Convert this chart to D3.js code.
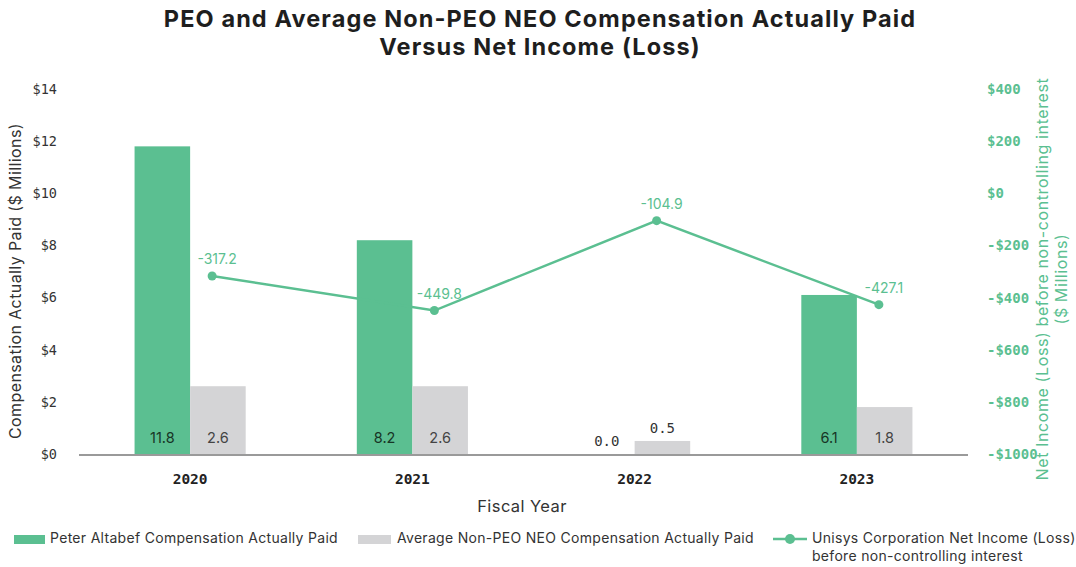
<!DOCTYPE html>
<html>
<head>
<meta charset="utf-8">
<script src="https://cdn.jsdelivr.net/npm/d3@7"></script>
<style>
  html, body { margin: 0; padding: 0; background: #fff; }
  svg { display: block; }
</style>
</head>
<body>
<svg id="chart" width="1076" height="567"></svg>
<script>
// Fiscal years and series
const years = ["2020", "2021", "2022", "2023"];
const peoPaid = [11.8, 8.2, 0.0, 6.1];          // $M
const nonPeoPaid = [2.6, 2.6, 0.5, 1.8];        // $M
const netIncome = [-317.2, -449.8, -104.9, -427.1]; // $M
const leftTicks = [0, 2, 4, 6, 8, 10, 12, 14];
const rightTicks = [-1000, -800, -600, -400, -200, 0, 200, 400];

const GREEN = "#5bbf91";
const GRAY = "#d4d4d6";
const MONO = "'DejaVu Sans Mono', monospace";
const SANS = "Inter, 'Noto Sans', sans-serif";

const svg = d3.select("#chart");

const plot = { left: 79, right: 968, top: 89, bottom: 454 };

const x = d3.scaleBand().domain(years).range([plot.left, plot.right])
  .paddingInner(0.5).paddingOuter(0.25);
const sub = d3.scaleBand().domain(["peo", "non"]).range([0, x.bandwidth()]);
const yL = d3.scaleLinear().domain([0, 14]).range([plot.bottom, plot.top]);
const yR = d3.scaleLinear().domain([-1000, 400]).range([plot.bottom, plot.top]);

// Title
svg.append("text")
  .attr("x", 540).attr("y", 0)
  .attr("text-anchor", "middle")
  .attr("font-family", SANS).attr("font-weight", 700)
  .attr("font-size", 23.5).attr("letter-spacing", 1.1).attr("fill", "#1e1e1e")
  .selectAll("tspan")
  .data(["PEO and Average Non-PEO NEO Compensation Actually Paid", "Versus Net Income (Loss)"])
  .join("tspan")
  .attr("x", 540).attr("y", (d, i) => 27 + i * 28)
  .text(d => d);

// Left axis
const axL = svg.append("g").attr("transform", `translate(57,0)`)
  .call(d3.axisLeft(yL).tickValues(leftTicks).tickSize(0).tickPadding(0)
    .tickFormat(d => "$" + d));
axL.select(".domain").remove();
axL.selectAll("text").attr("font-family", MONO).attr("font-size", 13.5)
  .attr("fill", "#333");

// Right axis
const axR = svg.append("g").attr("transform", `translate(987,0)`)
  .call(d3.axisRight(yR).tickValues(rightTicks).tickSize(0).tickPadding(0)
    .tickFormat(d => (d < 0 ? "-$" + Math.abs(d) : "$" + d)));
axR.select(".domain").remove();
axR.selectAll("text").attr("font-family", MONO).attr("font-size", 14)
  .attr("fill", GREEN).attr("font-weight", 700);

// Axis titles
svg.append("text")
  .attr("transform", `translate(21,${281}) rotate(-90)`)
  .attr("text-anchor", "middle")
  .attr("font-family", SANS).attr("font-size", 16).attr("letter-spacing", 0.4).attr("fill", "#333")
  .text("Compensation Actually Paid ($ Millions)");

const rt = svg.append("text")
  .attr("transform", `translate(1048,${279}) rotate(-90)`)
  .attr("text-anchor", "middle")
  .attr("font-family", SANS).attr("font-size", 16).attr("letter-spacing", 0.6).attr("fill", GREEN);
rt.append("tspan").attr("x", 0).attr("y", 0).text("Net Income (Loss) before non-controlling interest");
rt.append("tspan").attr("x", 0).attr("y", 19).text("($ Millions)");

// Bars
const groups = svg.append("g").selectAll("g")
  .data(years.map((yr, i) => ({ yr, vals: [
    { key: "peo", v: peoPaid[i] }, { key: "non", v: nonPeoPaid[i] }] })))
  .join("g")
  .attr("transform", d => `translate(${x(d.yr)},0)`);

groups.selectAll("rect")
  .data(d => d.vals)
  .join("rect")
  .attr("x", d => sub(d.key))
  .attr("width", sub.bandwidth())
  .attr("y", d => yL(d.v))
  .attr("height", d => yL(0) - yL(d.v))
  .attr("fill", d => d.key === "peo" ? GREEN : GRAY);

// Bar value labels: inside the bar when tall enough, otherwise just above it
groups.selectAll("text.val")
  .data(d => d.vals)
  .join("text")
  .attr("class", "val")
  .attr("x", d => sub(d.key) + sub.bandwidth() / 2)
  .attr("text-anchor", "middle")
  .each(function (d) {
    const h = yL(0) - yL(d.v);
    const t = d3.select(this);
    if (h > 24) {
      t.attr("y", 443).attr("font-family", SANS).attr("font-size", 14.5)
        .attr("fill", d.key === "peo" ? "#173526" : "#444");
    } else {
      t.attr("y", yL(d.v) - 8).attr("font-family", MONO).attr("font-size", 14)
        .attr("fill", "#333");
    }
  })
  .text(d => d.v.toFixed(1));

// Baseline
svg.append("line")
  .attr("x1", plot.left).attr("x2", plot.right)
  .attr("y1", yL(0) + 1).attr("y2", yL(0) + 1)
  .attr("stroke", "#9a9a9a").attr("stroke-width", 2);

// Year labels
svg.append("g").selectAll("text")
  .data(years)
  .join("text")
  .attr("x", d => x(d) + x.bandwidth() / 2)
  .attr("y", 484)
  .attr("text-anchor", "middle")
  .attr("font-family", MONO).attr("font-weight", 700)
  .attr("font-size", 14.5).attr("fill", "#222")
  .text(d => d);

svg.append("text")
  .attr("x", 522).attr("y", 512)
  .attr("text-anchor", "middle")
  .attr("font-family", SANS).attr("font-size", 16.5).attr("letter-spacing", 0.4).attr("fill", "#333")
  .text("Fiscal Year");

// Net income line (right axis)
const lineX = (yr) => x(yr) + x.bandwidth() / 2 + 22;
const pts = years.map((yr, i) => ({ yr, v: netIncome[i] }));
svg.append("path")
  .datum(pts)
  .attr("fill", "none").attr("stroke", GREEN).attr("stroke-width", 2.5)
  .attr("d", d3.line().x(d => lineX(d.yr)).y(d => yR(d.v)));
svg.append("g").selectAll("circle")
  .data(pts).join("circle")
  .attr("cx", d => lineX(d.yr)).attr("cy", d => yR(d.v)).attr("r", 4.5)
  .attr("fill", GREEN);
svg.append("g").selectAll("text")
  .data(pts).join("text")
  .attr("x", d => lineX(d.yr) + 5).attr("y", d => yR(d.v) - 12)
  .attr("text-anchor", "middle")
  .attr("font-family", SANS).attr("font-size", 14).attr("fill", GREEN)
  .text(d => d.v.toFixed(1));

// Legend
const lg = svg.append("g").attr("font-family", SANS).attr("font-size", 14)
  .attr("letter-spacing", 0.3).attr("fill", "#333");
lg.append("rect").attr("x", 14).attr("y", 535).attr("width", 31).attr("height", 9).attr("fill", GREEN);
lg.append("text").attr("x", 50).attr("y", 543).text("Peter Altabef Compensation Actually Paid");
lg.append("rect").attr("x", 358).attr("y", 535).attr("width", 33).attr("height", 9).attr("fill", GRAY);
lg.append("text").attr("x", 397).attr("y", 543).text("Average Non-PEO NEO Compensation Actually Paid");
lg.append("line").attr("x1", 773).attr("x2", 807).attr("y1", 539).attr("y2", 539)
  .attr("stroke", GREEN).attr("stroke-width", 2.5);
lg.append("circle").attr("cx", 790).attr("cy", 539).attr("r", 5).attr("fill", GREEN);
const lt = lg.append("text").attr("x", 812).attr("y", 543);
lt.append("tspan").attr("x", 812).attr("y", 543).text("Unisys Corporation Net Income (Loss)");
lt.append("tspan").attr("x", 812).attr("y", 561).text("before non-controlling interest");
</script>
</body>
</html>
